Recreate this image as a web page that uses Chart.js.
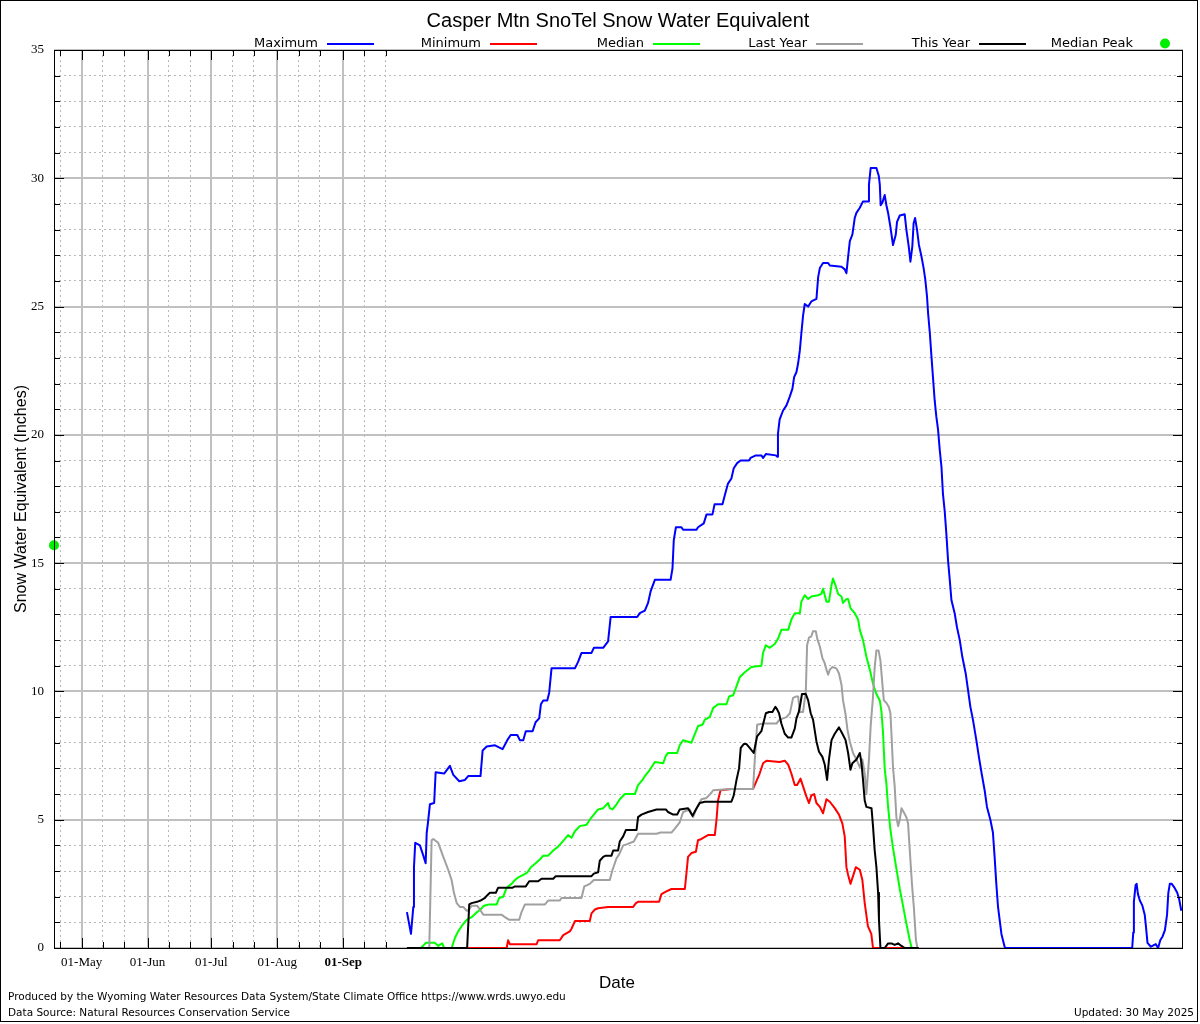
<!DOCTYPE html>
<html>
<head>
<meta charset="utf-8">
<title>Casper Mtn SnoTel Snow Water Equivalent</title>
<script src="https://cdn.jsdelivr.net/npm/chart.js@4.4.1/dist/chart.umd.min.js"></script>
<style>
  html, body { margin: 0; padding: 0; background: #fff; }
  canvas { display: block; }
</style>
</head>
<body>
<canvas id="sweChart" width="1200" height="1024"></canvas>
<script>
// x = days since 01-Oct (start of water year), y = inches of SWE

const monthTickDays = [-153, -122, -92, -61, -30]
const monthTickLabels = ['01-May', '01-Jun', '01-Jul', '01-Aug', '01-Sep']
const minorTickDays = [-163, -143, -133, -112, -102, -82, -72, -51, -41, -20, -10]

const maximum = [[0,1.4],[1.9,0.55],[3.0,1.6],[3.3,3.15],[3.9,4.1],[6.1,4.0],[7.7,3.6],[8.8,3.3],[9.3,4.5],[9.9,4.9],[10.8,5.6],[12.8,5.65],[13.5,6.85],[17.5,6.8],[20.2,7.1],[21.8,6.75],[24.6,6.5],[27.3,6.55],[28.8,6.7],[34.6,6.7],[35.6,7.7],[37.5,7.85],[41.4,7.9],[45.0,7.75],[47.2,8.1],[48.8,8.3],[51.9,8.3],[53.1,8.1],[54.7,8.1],[55.9,8.45],[59.1,8.45],[60.5,8.8],[62.2,8.95],[63.0,9.5],[64.1,9.65],[66.0,9.65],[66.9,9.95],[68.0,10.9],[79.0,10.9],[80.5,11.15],[82.1,11.5],[86.8,11.5],[87.9,11.7],[92.3,11.7],[94.6,11.95],[95.8,12.9],[108.3,12.9],[109.5,13.05],[111.9,13.15],[113.4,13.45],[114.6,13.9],[116.6,14.35],[124.0,14.35],[124.9,14.8],[125.5,15.9],[126.5,16.4],[129.1,16.4],[129.9,16.3],[136.2,16.3],[136.9,16.4],[139.6,16.55],[140.9,16.9],[143.7,16.9],[144.7,17.3],[148.4,17.3],[149.5,17.65],[151.0,18.1],[152.6,18.3],[153.7,18.7],[155.3,18.9],[156.9,19.0],[160.9,19.0],[161.6,19.1],[164.1,19.2],[166.7,19.2],[167.5,19.1],[168.8,19.25],[173.5,19.2],[174.1,19.15],[174.5,20.05],[175.3,20.6],[176.9,20.95],[178.5,21.15],[180.1,21.5],[181.3,21.8],[182.1,22.25],[183.2,22.45],[184.0,22.8],[184.8,23.3],[185.5,23.95],[186.3,24.65],[187.1,25.1],[188.7,25.0],[190.2,25.2],[192.6,25.3],[193.4,26.15],[194.2,26.5],[195.7,26.7],[198.1,26.7],[198.9,26.6],[204.4,26.55],[205.9,26.45],[206.7,26.3],[207.5,26.95],[208.3,27.55],[209.5,27.8],[210.6,28.45],[211.4,28.65],[213.0,28.85],[214.5,29.1],[216.9,29.1],[217.3,29.75],[218.1,30.4],[220.8,30.4],[221.9,30.1],[222.4,29.75],[222.8,28.95],[223.6,29.05],[224.7,29.35],[225.5,28.95],[226.3,28.65],[227.4,28.1],[228.6,27.4],[229.9,27.8],[230.5,28.3],[231.8,28.55],[234.1,28.6],[234.9,28.0],[236.0,27.35],[236.8,26.75],[237.7,27.35],[238.3,28.25],[239.0,28.45],[239.9,28.0],[240.8,27.4],[242.0,26.95],[243.0,26.5],[243.8,26.05],[244.6,25.4],[245.1,24.75],[245.9,24.0],[246.7,23.05],[247.4,22.25],[248.2,21.35],[249.0,20.7],[249.8,20.2],[250.6,19.4],[251.4,18.75],[252.1,17.7],[252.9,17.05],[253.7,16.15],[254.5,15.1],[255.3,14.35],[256.1,13.55],[257.6,13.05],[258.7,12.5],[260.0,12.0],[261.2,11.35],[262.8,10.7],[263.9,10.05],[265.0,9.4],[266.2,8.9],[267.8,8.1],[269.0,7.45],[270.3,6.8],[271.7,6.15],[272.8,5.5],[274.4,5.0],[275.6,4.5],[276.4,3.55],[277.2,2.5],[278.0,1.6],[279.6,0.55],[281.1,0.05],[281.5,0],[341.1,0],[341.6,0.6],[341.9,1.8],[342.7,2.45],[343.2,2.5],[343.8,2.1],[344.7,1.85],[345.9,1.65],[347.0,1.3],[347.5,0.9],[348.3,0.2],[349.9,0.05],[352.2,0.15],[353.3,0.0],[354.3,0.3],[355.4,0.45],[356.5,0.7],[357.5,1.3],[358.1,2.15],[358.8,2.5],[359.7,2.5],[361.0,2.35],[362.3,2.15],[363.2,1.9],[364.2,1.45]]

const minimum = [[0,0],[46.9,0],[47.6,0.3],[48.4,0.15],[61.0,0.15],[61.7,0.3],[71.9,0.3],[73.5,0.5],[76.6,0.65],[77.4,0.75],[79.0,1.05],[86.0,1.05],[86.8,1.35],[88.4,1.5],[89.9,1.55],[94.6,1.6],[106.4,1.6],[107.7,1.75],[108.7,1.8],[118.6,1.8],[119.7,2.1],[121.8,2.2],[124.4,2.3],[130.7,2.3],[131.5,2.95],[132.2,3.55],[133.8,3.7],[135.9,3.75],[136.9,4.2],[138.5,4.25],[141.6,4.4],[144.8,4.4],[145.6,5.0],[146.3,5.75],[147.5,6.15],[152.6,6.2],[162.8,6.2],[165.9,6.8],[167.5,7.2],[169.1,7.3],[175.3,7.25],[177.7,7.3],[179.3,7.15],[180.8,6.8],[182.4,6.35],[183.5,6.35],[185.1,6.6],[186.3,6.3],[187.9,5.9],[189.1,5.65],[190.2,5.95],[191.5,6.0],[192.6,5.65],[194.2,5.5],[195.7,5.25],[197.3,5.8],[198.9,5.7],[201.2,5.45],[203.2,5.2],[204.8,4.85],[205.9,4.35],[206.7,3.15],[207.5,2.85],[208.6,2.5],[209.8,2.8],[211.1,3.15],[213.0,3.05],[214.2,2.65],[215.3,1.75],[216.8,0.85],[218.4,0.55],[219.2,0],[240.7,0]]

const median = [[0,0],[6.6,0],[8.9,0.2],[13.2,0.2],[14.7,0.08],[16.6,0.18],[17.5,0],[21.0,0],[22.6,0.4],[24.1,0.65],[25.7,0.85],[28.1,1.1],[30.4,1.2],[33.0,1.4],[34.6,1.5],[36.2,1.65],[38.7,1.7],[42.2,1.7],[43.4,1.95],[45.3,2.0],[46.9,2.35],[49.2,2.5],[50.8,2.65],[52.3,2.75],[54.7,2.85],[56.7,2.95],[58.3,3.15],[60.5,3.3],[62.5,3.45],[64.1,3.6],[66.4,3.6],[68.8,3.8],[71.1,3.95],[72.7,4.1],[74.3,4.25],[75.8,4.4],[77.4,4.3],[79.0,4.55],[81.3,4.75],[84.5,4.8],[86.0,5.0],[87.9,5.2],[89.9,5.4],[92.3,5.45],[94.6,5.65],[95.4,5.45],[96.7,5.4],[98.6,5.6],[100.1,5.8],[102.5,6.0],[107.2,6.0],[108.7,6.35],[110.8,6.55],[111.9,6.7],[113.9,6.9],[116.6,7.25],[120.5,7.2],[121.8,7.5],[122.8,7.6],[127.1,7.6],[128.3,7.9],[129.9,8.1],[133.8,8.0],[136.2,8.5],[136.9,8.65],[139.0,8.7],[140.1,8.9],[142.4,9.0],[144.0,9.35],[146.3,9.5],[150.3,9.5],[151.5,9.8],[153.4,9.85],[155.0,10.2],[156.5,10.55],[158.9,10.75],[162.0,10.95],[166.7,11.0],[167.5,11.5],[168.8,11.8],[170.6,11.7],[173.0,11.85],[174.5,12.05],[176.1,12.4],[179.3,12.4],[180.8,12.8],[182.4,13.05],[184.8,13.05],[185.5,13.5],[187.1,13.75],[188.7,13.6],[190.2,13.7],[193.4,13.75],[194.9,13.8],[195.7,14.0],[197.3,13.5],[198.5,13.5],[199.7,14.15],[200.4,14.4],[201.7,14.1],[202.8,13.8],[204.4,13.7],[205.1,13.45],[206.7,13.6],[207.5,13.6],[208.6,13.25],[210.6,13.05],[212.2,12.8],[213.0,12.4],[214.5,12.0],[216.1,11.35],[217.7,10.85],[219.2,10.3],[220.8,9.9],[222.4,9.65],[223.2,9.2],[223.9,8.4],[224.7,7.0],[225.5,6.4],[226.3,5.5],[227.4,4.6],[228.6,3.9],[230.2,3.1],[231.8,2.3],[233.3,1.65],[234.9,0.95],[236.5,0.3],[237.4,0]]

const lastYear = [[0,0],[10.5,0],[11.6,4.2],[12.4,4.25],[14.7,4.1],[17.1,3.55],[19.4,3.05],[21.0,2.65],[22.1,2.15],[23.4,1.75],[24.9,1.6],[26.5,1.6],[28.1,1.45],[29.3,1.5],[30.4,1.65],[33.0,1.65],[34.3,1.5],[35.9,1.3],[44.5,1.3],[46.1,1.2],[48.1,1.1],[52.8,1.1],[53.9,1.4],[55.5,1.7],[64.9,1.7],[66.4,1.85],[71.9,1.85],[72.7,1.95],[82.1,1.95],[83.4,2.4],[84.8,2.45],[86.0,2.5],[87.9,2.65],[95.4,2.65],[96.7,3.05],[98.6,3.5],[99.8,3.65],[101.7,4.0],[103.6,4.05],[106.7,4.15],[108.7,4.45],[117.4,4.45],[119.3,4.5],[124.4,4.5],[126.0,4.65],[128.3,4.9],[129.9,5.3],[133.0,5.4],[134.6,5.1],[136.2,5.45],[138.5,5.8],[140.9,5.85],[143.2,6.05],[144.0,6.15],[152.6,6.2],[162.8,6.2],[163.6,7.35],[164.7,8.7],[167.5,8.75],[173.8,8.75],[175.3,8.9],[178.5,9.0],[180.1,9.15],[181.6,9.75],[182.9,9.8],[184.0,9.8],[184.8,9.2],[186.3,9.2],[187.6,10.0],[188.2,11.8],[189.1,12.1],[190.2,12.15],[191.0,12.35],[192.3,12.35],[193.0,12.05],[194.2,11.75],[195.4,11.3],[196.5,11.1],[197.3,10.85],[198.1,10.65],[198.9,10.85],[200.1,10.95],[202.0,10.9],[203.2,10.7],[204.4,10.25],[205.1,9.65],[206.3,9.1],[207.2,8.5],[208.3,8.05],[209.8,7.6],[211.4,7.35],[213.0,7.05],[214.2,7.35],[215.3,6.8],[216.1,6.0],[217.3,7.35],[218.1,8.65],[219.2,9.8],[220.0,10.95],[220.8,11.6],[221.8,11.6],[222.7,11.2],[223.7,10.2],[224.3,9.65],[225.5,9.55],[226.6,9.4],[227.4,9.15],[227.9,8.3],[228.6,7.05],[229.4,6.3],[230.2,5.1],[231.0,4.75],[231.8,5.0],[232.6,5.45],[233.6,5.3],[234.9,5.1],[235.7,4.85],[236.5,3.8],[237.6,2.4],[238.4,1.6],[239.4,0.3],[240.1,0]]

const thisYear = [[0,0],[28.3,0],[29.3,1.7],[30.4,1.75],[33.0,1.8],[34.6,1.85],[36.7,1.95],[37.7,2.05],[39.0,2.15],[41.8,2.15],[42.9,2.35],[49.7,2.35],[50.8,2.4],[55.9,2.4],[57.5,2.6],[61.7,2.6],[63.3,2.7],[68.8,2.7],[70.0,2.8],[86.8,2.8],[87.9,2.9],[89.9,2.95],[90.7,3.4],[92.3,3.55],[93.5,3.6],[96.2,3.6],[97.0,3.8],[99.3,3.8],[100.1,4.15],[101.7,4.35],[103.0,4.6],[108.0,4.6],[108.7,5.1],[110.3,5.2],[113.4,5.3],[117.4,5.4],[121.8,5.4],[122.8,5.3],[125.2,5.2],[127.1,5.2],[128.3,5.4],[132.2,5.45],[134.3,5.15],[135.9,5.4],[137.7,5.65],[140.1,5.7],[152.6,5.7],[153.7,5.95],[155.0,6.55],[156.2,7.0],[157.0,7.8],[158.4,7.95],[159.7,7.95],[161.2,7.8],[163.1,7.6],[164.7,8.25],[166.7,8.45],[168.8,9.15],[170.3,9.2],[171.9,9.2],[173.3,9.4],[174.1,9.3],[175.0,9.15],[176.1,8.75],[177.7,8.35],[179.3,8.2],[180.8,8.2],[182.4,8.55],[183.2,8.95],[184.3,9.2],[185.1,9.55],[185.8,9.9],[187.6,9.9],[188.7,9.65],[189.9,9.15],[191.0,8.9],[192.6,8.05],[193.8,7.65],[195.4,7.45],[196.5,7.15],[197.6,6.55],[198.5,7.35],[199.7,8.1],[201.2,8.35],[203.2,8.6],[204.8,8.35],[206.3,8.1],[207.5,7.6],[208.6,6.95],[209.5,7.2],[211.4,7.35],[213.0,7.6],[213.8,7.2],[214.5,6.55],[215.3,5.75],[216.1,5.5],[218.5,5.45],[219.2,4.75],[220.0,3.8],[220.8,3.15],[221.6,2.15],[222.0,1.1],[222.7,0],[224.7,0],[226.3,0.18],[227.9,0.18],[229.4,0.12],[231.0,0.18],[232.6,0.08],[234.1,0],[240.7,0]]

const medianPeak = [[-166, 15.7]]

function toPoints(pairs) {
  return pairs.map(p => ({ x: p[0], y: p[1] }))
}

function lineSet(label, pairs, color, order) {
  return {
    label: label,
    data: toPoints(pairs),
    borderColor: color,
    backgroundColor: color,
    borderWidth: 2,
    pointRadius: 0,
    tension: 0,
    borderJoinStyle: 'round',
    order: order
  }
}

const gridGray = '#c0c0c0'

// gnuplot-like decorations: frame, inward ticks, key, titles, footer
const decorations = {
  id: 'decorations',
  beforeDraw(chart) {
    const ctx = chart.ctx
    ctx.save()
    ctx.fillStyle = '#fff'
    ctx.fillRect(0, 0, chart.width, chart.height)
    ctx.restore()
  },
  afterDraw(chart) {
    const ctx = chart.ctx
    const a = chart.chartArea
    const xs = chart.scales.x
    const ys = chart.scales.y
    ctx.save()

    // ticks pointing into the plot
    ctx.strokeStyle = '#000'
    ctx.lineWidth = 1
    ctx.beginPath()
    ys.ticks.forEach(t => {
      const py = Math.round(ys.getPixelForValue(t.value)) + 0.5
      const len = t.value % 5 === 0 ? 10 : 6
      ctx.moveTo(a.left, py); ctx.lineTo(a.left + len, py)
      ctx.moveTo(a.right, py); ctx.lineTo(a.right - len, py)
    })
    xs.ticks.forEach(t => {
      const px = Math.round(xs.getPixelForValue(t.value)) + 0.5
      const len = monthTickDays.includes(t.value) ? 10 : 6
      ctx.moveTo(px, a.bottom); ctx.lineTo(px, a.bottom - len)
      ctx.moveTo(px, a.top); ctx.lineTo(px, a.top + len)
    })
    ctx.stroke()

    // plot frame and outer border
    ctx.strokeRect(a.left + 0.5, a.top + 0.5, a.right - a.left - 1, a.bottom - a.top)
    ctx.strokeRect(0.5, 0.5, 1197, 1021)

    // title
    ctx.fillStyle = '#000'
    ctx.textAlign = 'center'
    ctx.textBaseline = 'middle'
    ctx.font = '20px "Liberation Sans", Arial, sans-serif'
    ctx.fillText('Casper Mtn SnoTel Snow Water Equivalent', 618, 21)

    // key: text, then sample
    ctx.font = '13px "DejaVu Sans", sans-serif'
    chart.data.datasets.forEach((ds, i) => {
      const right = 318 + 163 * i
      ctx.textAlign = 'right'
      ctx.fillStyle = '#000'
      ctx.fillText(ds.label, right, 44)
      if (ds.showLine === false) {
        ctx.beginPath()
        ctx.fillStyle = ds.backgroundColor
        ctx.arc(right + 32, 43.5, 5, 0, Math.PI * 2)
        ctx.fill()
      } else {
        ctx.beginPath()
        ctx.strokeStyle = ds.borderColor
        ctx.lineWidth = 2
        ctx.moveTo(right + 9, 44)
        ctx.lineTo(right + 56, 44)
        ctx.stroke()
      }
    })

    // axis titles
    ctx.fillStyle = '#000'
    ctx.textAlign = 'center'
    ctx.font = '17px "Liberation Sans", Arial, sans-serif'
    ctx.fillText('Date', 617, 983)
    ctx.save()
    ctx.translate(22, 499)
    ctx.rotate(-Math.PI / 2)
    ctx.font = '16px "Liberation Sans", Arial, sans-serif'
    ctx.fillText('Snow Water Equivalent (Inches)', 0, 0)
    ctx.restore()

    // footer
    ctx.font = '10.5px "DejaVu Sans", sans-serif'
    ctx.textAlign = 'left'
    ctx.fillText('Produced by the Wyoming Water Resources Data System/State Climate Office https://www.wrds.uwyo.edu', 8, 997)
    ctx.fillText('Data Source: Natural Resources Conservation Service', 8, 1013)
    ctx.textAlign = 'right'
    ctx.fillText('Updated: 30 May 2025', 1194, 1013)

    ctx.restore()
  }
}

const chart = new Chart(document.getElementById('sweChart'), {
  type: 'line',
  data: {
    datasets: [
      lineSet('Maximum', maximum, '#0000ff', 5),
      lineSet('Minimum', minimum, '#ff0000', 4),
      lineSet('Median', median, '#00ff00', 3),
      lineSet('Last Year', lastYear, '#a0a0a0', 2),
      lineSet('This Year', thisYear, '#000000', 1),
      {
        label: 'Median Peak',
        data: toPoints(medianPeak),
        showLine: false,
        pointRadius: 5,
        pointBorderWidth: 0,
        backgroundColor: '#00ee00',
        borderColor: '#00ee00',
        clip: false,
        order: 0
      }
    ]
  },
  options: {
    responsive: false,
    animation: false,
    events: [],
    layout: { padding: { left: 0, right: 17, top: 50, bottom: 0 } },
    plugins: {
      legend: { display: false },
      title: { display: false },
      tooltip: { enabled: false }
    },
    scales: {
      x: {
        type: 'linear',
        min: -166,
        max: 365,
        afterFit: s => { s.height = 76 },
        afterBuildTicks: s => {
          s.ticks = monthTickDays.concat(minorTickDays).sort((p, q) => p - q).map(v => ({ value: v }))
        },
        ticks: {
          autoSkip: false,
          maxRotation: 0,
          padding: 7,
          color: '#000',
          font: ctx => ({
            family: '"Liberation Serif", "Times New Roman", serif',
            size: 13,
            weight: ctx.tick && ctx.tick.value === -30 ? 'bold' : 'normal'
          }),
          callback: v => {
            const i = monthTickDays.indexOf(v)
            return i >= 0 ? monthTickLabels[i] : ''
          }
        },
        grid: {
          drawTicks: false,
          color: ctx => monthTickDays.includes(ctx.tick.value) ? gridGray : '#b8b8b8',
          lineWidth: ctx => monthTickDays.includes(ctx.tick.value) ? 2 : 1
        },
        border: {
          display: false,
          dash: ctx => (ctx.tick && monthTickDays.includes(ctx.tick.value)) ? [] : [2, 3]
        }
      },
      y: {
        min: 0,
        max: 35,
        afterFit: s => { s.width = 54 },
        ticks: {
          stepSize: 1,
          autoSkip: false,
          padding: 10,
          color: '#000',
          font: { family: '"Liberation Serif", "Times New Roman", serif', size: 13 },
          callback: v => (v % 5 === 0 ? String(v) : '')
        },
        grid: {
          drawTicks: false,
          color: ctx => ctx.tick.value % 5 === 0 ? gridGray : '#b8b8b8',
          lineWidth: ctx => ctx.tick.value % 5 === 0 ? 2 : 1
        },
        border: {
          display: false,
          dash: ctx => (ctx.tick && ctx.tick.value % 5 === 0) ? [] : [2, 3]
        }
      }
    }
  },
  plugins: [decorations]
})
</script>
</body>
</html>
